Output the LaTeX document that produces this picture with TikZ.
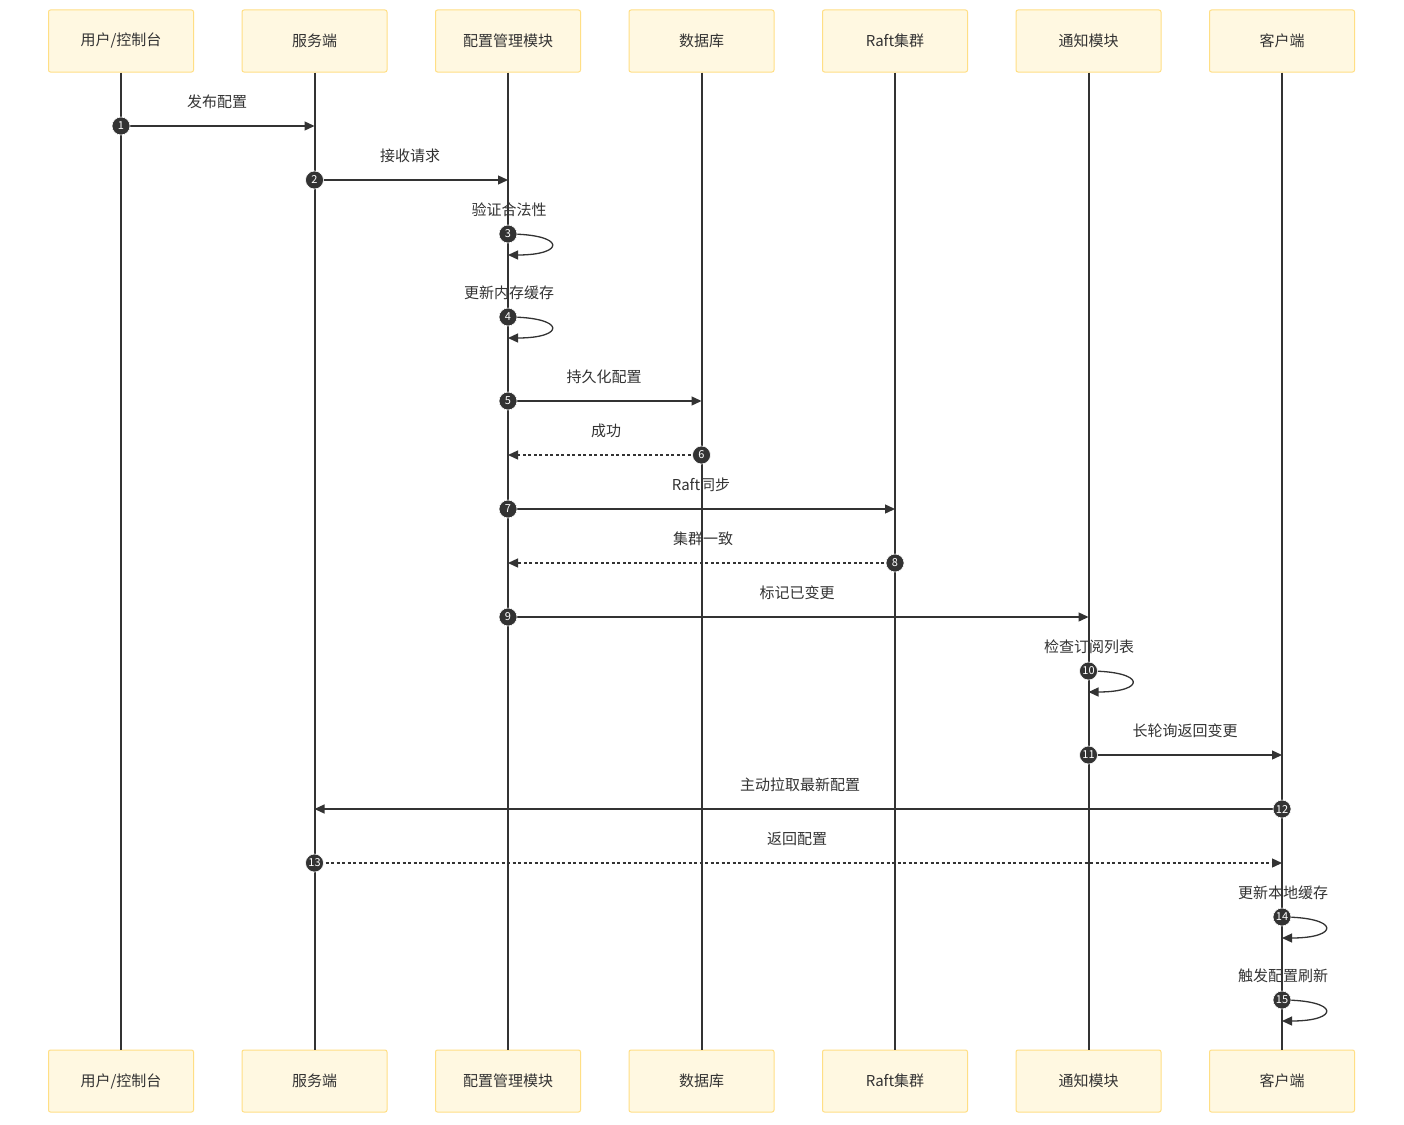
\documentclass[tikz,border=0pt]{standalone}
\usepackage{fontspec}
\setmainfont{Noto Sans CJK SC}
\usetikzlibrary{arrows.meta}
\definecolor{boxfill}{HTML}{FFF8E1}
\definecolor{boxdraw}{HTML}{FFDF85}
\definecolor{ink}{HTML}{333333}
\begin{document}
\begin{tikzpicture}[x=1pt,y=-1pt,
  actor/.style={draw=boxdraw,fill=boxfill,line width=1pt,rounded corners=2pt,minimum width=145pt,minimum height=62pt,inner sep=0pt,font=\fontsize{15}{16}\selectfont,text=ink},
  life/.style={draw=ink,line width=2pt},
  msg/.style={draw=ink,line width=1.3pt,-{Triangle[length=10pt,width=9pt]}},
  dmsg/.style={msg,dash pattern=on 3pt off 2.5pt},
  num/.style={circle,fill=ink,draw=white,line width=0.6pt,minimum size=18pt,inner sep=0pt,text=white,font=\fontsize{11}{11}\selectfont},
  lab/.style={font=\fontsize{15}{16}\selectfont,text=ink,inner sep=0pt,yshift=-1pt}]
\useasboundingbox (0,0) rectangle (1404,1124);
\fill[white] (0,0) rectangle (1404,1124);
% actors
\foreach \i/\x/\t in {1/121/{用户/控制台},2/314.5/服务端,3/508/配置管理模块,4/701.5/数据库,5/895/Raft集群,6/1088.5/通知模块,7/1282/客户端}{
  \node[actor] (t\i) at (\x,41) {\raisebox{-2pt}{\t}};
  \node[actor] (b\i) at (\x,1081) {\raisebox{-2pt}{\t}};
  \draw[life] (t\i.south) -- (b\i.north);
}
% 1
\coordinate (e1) at (314.5,126);
\node[lab] at (217,101) {发布配置};
\draw[msg] (121,126) -- (e1);
\node[num] (n1) at (121,126) {1};
% 2
\coordinate (e2) at (508,180);
\node[lab] at (410,155) {接收请求};
\draw[msg] (314.5,180) -- (e2);
\node[num] (n2) at (314.5,180) {2};
% 3
\coordinate (e3) at (508,255);
\node[lab] at (509,209) {验证合法性};
\draw[msg] (508,234) .. controls (566,234) and (566,255) .. (e3);
\node[num] (n3) at (508,234) {3};
% 4
\coordinate (e4) at (508,338);
\node[lab] at (509,292) {更新内存缓存};
\draw[msg] (508,317) .. controls (566,317) and (566,338) .. (e4);
\node[num] (n4) at (508,317) {4};
% 5
\coordinate (e5) at (701.5,401);
\node[lab] at (604,376) {持久化配置};
\draw[msg] (508,401) -- (e5);
\node[num] (n5) at (508,401) {5};
% 6
\coordinate (e6) at (508,455);
\node[lab] at (606,430) {成功};
\draw[dmsg] (701.5,455) -- (e6);
\node[num] (n6) at (701.5,455) {6};
% 7
\coordinate (e7) at (895,509);
\node[lab] at (701,484) {Raft同步};
\draw[msg] (508,509) -- (e7);
\node[num] (n7) at (508,509) {7};
% 8
\coordinate (e8) at (508,563);
\node[lab] at (703,538) {集群一致};
\draw[dmsg] (895,563) -- (e8);
\node[num] (n8) at (895,563) {8};
% 9
\coordinate (e9) at (1088.5,617);
\node[lab] at (797,592) {标记已变更};
\draw[msg] (508,617) -- (e9);
\node[num] (n9) at (508,617) {9};
% 10
\coordinate (e10) at (1088.5,692);
\node[lab] at (1089,646) {检查订阅列表};
\draw[msg] (1088.5,671) .. controls (1146.5,671) and (1146.5,692) .. (e10);
\node[num] (n10) at (1088.5,671) {10};
% 11
\coordinate (e11) at (1282,755);
\node[lab] at (1185,730) {长轮询返回变更};
\draw[msg] (1088.5,755) -- (e11);
\node[num] (n11) at (1088.5,755) {11};
% 12
\coordinate (e12) at (314.5,809);
\node[lab] at (800,784) {主动拉取最新配置};
\draw[msg] (1282,809) -- (e12);
\node[num] (n12) at (1282,809) {12};
% 13
\coordinate (e13) at (1282,863);
\node[lab] at (797,838) {返回配置};
\draw[dmsg] (314.5,863) -- (e13);
\node[num] (n13) at (314.5,863) {13};
% 14
\coordinate (e14) at (1282,938);
\node[lab] at (1283,892) {更新本地缓存};
\draw[msg] (1282,917) .. controls (1340,917) and (1340,938) .. (e14);
\node[num] (n14) at (1282,917) {14};
% 15
\coordinate (e15) at (1282,1021);
\node[lab] at (1283,975) {触发配置刷新};
\draw[msg] (1282,1000) .. controls (1340,1000) and (1340,1021) .. (e15);
\node[num] (n15) at (1282,1000) {15};
\end{tikzpicture}
\end{document}
